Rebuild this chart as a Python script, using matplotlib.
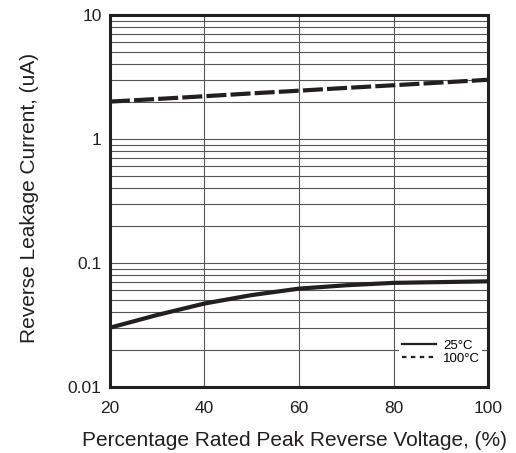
import matplotlib
matplotlib.use('Agg')
from matplotlib import pyplot as plt
from matplotlib.lines import Line2D

plt.rcParams['font.family'] = ['Liberation Sans', 'DejaVu Sans']

volt = [20, 30, 40, 50, 60, 70, 80, 90, 100]
i_25 = [0.030, 0.038, 0.047, 0.055, 0.062, 0.066, 0.069, 0.070, 0.071]
i_100 = [2.0, 2.1, 2.21, 2.33, 2.45, 2.58, 2.71, 2.85, 3.0]

xticks = [20, 40, 60, 80, 100]
yticks = [0.01, 0.1, 1, 10]
ylabels = ['0.01', '0.1', '1', '10']

dark = '#231f20'

fig = plt.figure(figsize=(5.16, 4.53), dpi=100)
ax = fig.add_axes([0.213, 0.146, 0.733, 0.821])

ax.plot(volt, i_25, color=dark, linewidth=3, solid_capstyle='butt', zorder=3)
ax.plot(volt, i_100, color=dark, linewidth=3, dashes=(4.8, 1.0), zorder=3)

ax.set_yscale('log')
ax.set_xlim(20, 100)
ax.set_ylim(0.01, 10)
ax.set_xticks(xticks)
ax.set_yticks(yticks)
ax.set_yticklabels(ylabels)
ax.tick_params(which='both', length=0, labelsize=12.5, colors=dark)
ax.tick_params(axis='x', pad=10)
ax.tick_params(axis='y', pad=6)
ax.grid(True, which='both', axis='y', color='#555555', linewidth=0.8)
ax.grid(True, which='major', axis='x', color='#555555', linewidth=0.8)
ax.set_axisbelow(True)

for s in ax.spines.values():
    s.set_linewidth(2.2)
    s.set_color(dark)

ax.set_xlabel('Percentage Rated Peak Reverse Voltage, (%)', fontsize=15, labelpad=11, color=dark)
ax.set_ylabel('Reverse Leakage Current, (uA)', fontsize=15, labelpad=21, color=dark)
ax.xaxis.label.set_x(0.487)
ax.yaxis.label.set_y(0.509)

handles = [Line2D([0], [0], color=dark, linewidth=1.6),
           Line2D([0], [0], color=dark, linewidth=1.6, dashes=(2, 2))]
leg = ax.legend(handles, ['25°C', '100°C'], loc='lower right',
                bbox_to_anchor=(0.985, 0.052), frameon=True, fontsize=9.5,
                handlelength=2.6, handletextpad=0.5, labelspacing=0.05,
                borderpad=0.2, borderaxespad=0)
leg.get_frame().set_facecolor('white')
leg.get_frame().set_edgecolor('none')
leg.get_frame().set_alpha(1)
leg.get_frame().set_boxstyle('square', pad=0)

fig.savefig('out.png', dpi=100)
